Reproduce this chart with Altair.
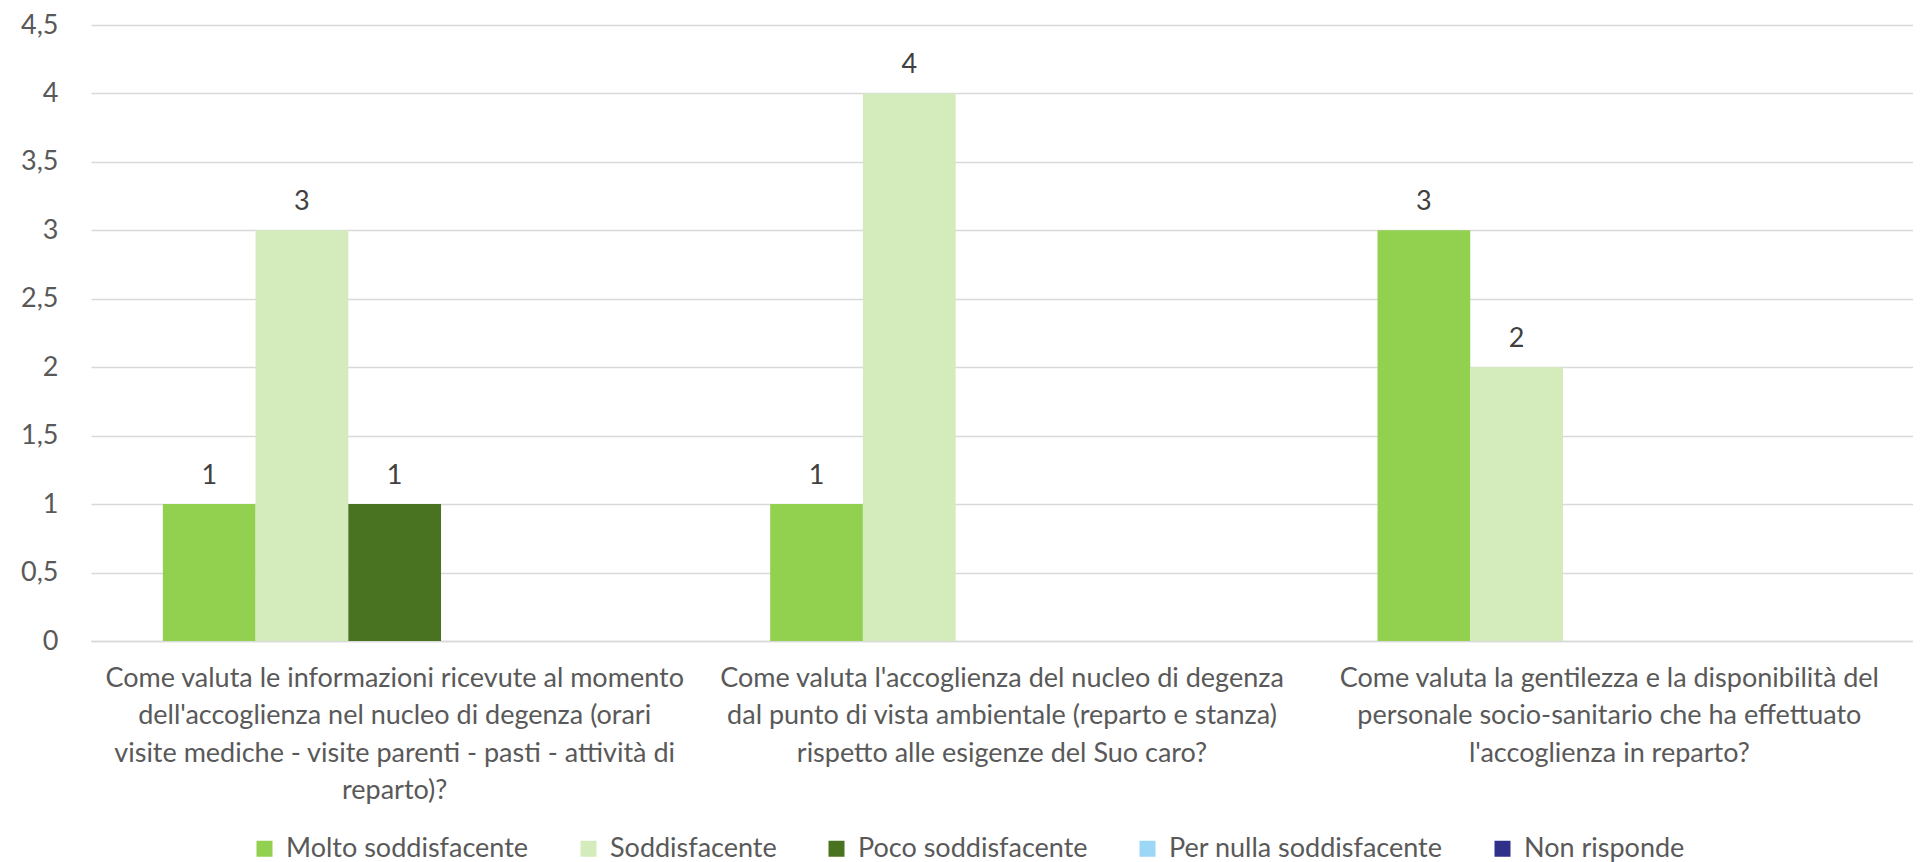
import altair as alt
import pandas as pd

# ---- data ----
categories = [
    ["Come valuta le informazioni ricevute al momento",
     "dell'accoglienza nel nucleo di degenza (orari",
     "visite mediche - visite parenti - pasti - attività di",
     "reparto)?"],
    ["Come valuta l'accoglienza del nucleo di degenza",
     "dal punto di vista ambientale (reparto e stanza)",
     "rispetto alle esigenze del Suo caro?"],
    ["Come valuta la gentilezza e la disponibilità del",
     "personale socio-sanitario che ha effettuato",
     "l'accoglienza in reparto?"],
]
series = ["Molto soddisfacente", "Soddisfacente", "Poco soddisfacente",
          "Per nulla soddisfacente", "Non risponde"]
molto = [1, 1, 3]
soddisf = [3, 4, 2]
poco = [1, 0, 0]
per_nulla = [0, 0, 0]
non_risponde = [0, 0, 0]
colors = ["#92D050", "#D4EBBC", "#4A7321", "#9DD7F6", "#2E3089"]
y_ticks = [0, 0.5, 1, 1.5, 2, 2.5, 3, 3.5, 4, 4.5]

cat_labels = ["\n".join(c) for c in categories]
values = [molto, soddisf, poco, per_nulla, non_risponde]
rows = []
for s, vals in zip(series, values):
    for c, v in zip(cat_labels, vals):
        rows.append({"categoria": c, "serie": s, "valore": v})
df = pd.DataFrame(rows)

FONT = "Lato"
GRID = "#D9D9D9"
TXT = "#595959"

x_enc = alt.X("categoria:N", sort=cat_labels, title=None,
              scale=alt.Scale(paddingInner=0.2366, paddingOuter=0.1183),
              axis=alt.Axis(labelExpr="split(datum.label, '\\n')", labelAngle=0,
                            labelFontSize=27, labelFont=FONT, labelColor=TXT,
                            labelLineHeight=37.5, labelLimit=800, labelOverlap=False,
                            labelBaseline="top", labelPadding=24,
                            ticks=False, domain=True, domainColor=GRID, domainWidth=1.3,
                            grid=False))
xoff = alt.XOffset("serie:N", sort=series, scale=alt.Scale(domain=series, paddingInner=0, paddingOuter=0))
y_enc = alt.Y("valore:Q", title=None,
              scale=alt.Scale(domain=[0, 4.5], nice=False),
              axis=alt.Axis(values=y_ticks,
                            labelExpr="replace(format(datum.value, '.1~f'), '.', ',')",
                            labelFontSize=27, labelFont=FONT, labelColor=TXT,
                            labelPadding=33, ticks=False, domain=False,
                            grid=True, gridColor=GRID, gridWidth=1.3))

base = alt.Chart(df)

bars = base.mark_bar().encode(
    x=x_enc, xOffset=xoff, y=y_enc,
    color=alt.Color("serie:N", sort=series,
                    scale=alt.Scale(domain=series, range=colors),
                    legend=alt.Legend(title=None, orient="none", direction="horizontal",
                                      legendX=160, legendY=810, columns=5,
                                      symbolType="square", symbolSize=256,
                                      symbolStrokeWidth=0, labelFontSize=27,
                                      labelFont=FONT, labelColor=TXT, labelOffset=8,
                                      columnPadding=46, padding=0, labelLimit=400)),
)

labels = base.transform_filter("datum.valore > 0").mark_text(
    baseline="alphabetic", dy=-20, fontSize=27, font=FONT, color="#404040"
).encode(
    x=alt.X("categoria:N", sort=cat_labels), xOffset=xoff,
    y=alt.Y("valore:Q"), text=alt.Text("valore:Q"),
)

chart = alt.layer(bars, labels).properties(
    width=1822, height=616,
    autosize=alt.AutoSizeParams(type="none"),
    padding={"left": 83, "top": 17, "right": 0, "bottom": 221},
).configure_view(stroke=None)

chart.save("out.html", embed_options={"renderer": "svg", "actions": False})
